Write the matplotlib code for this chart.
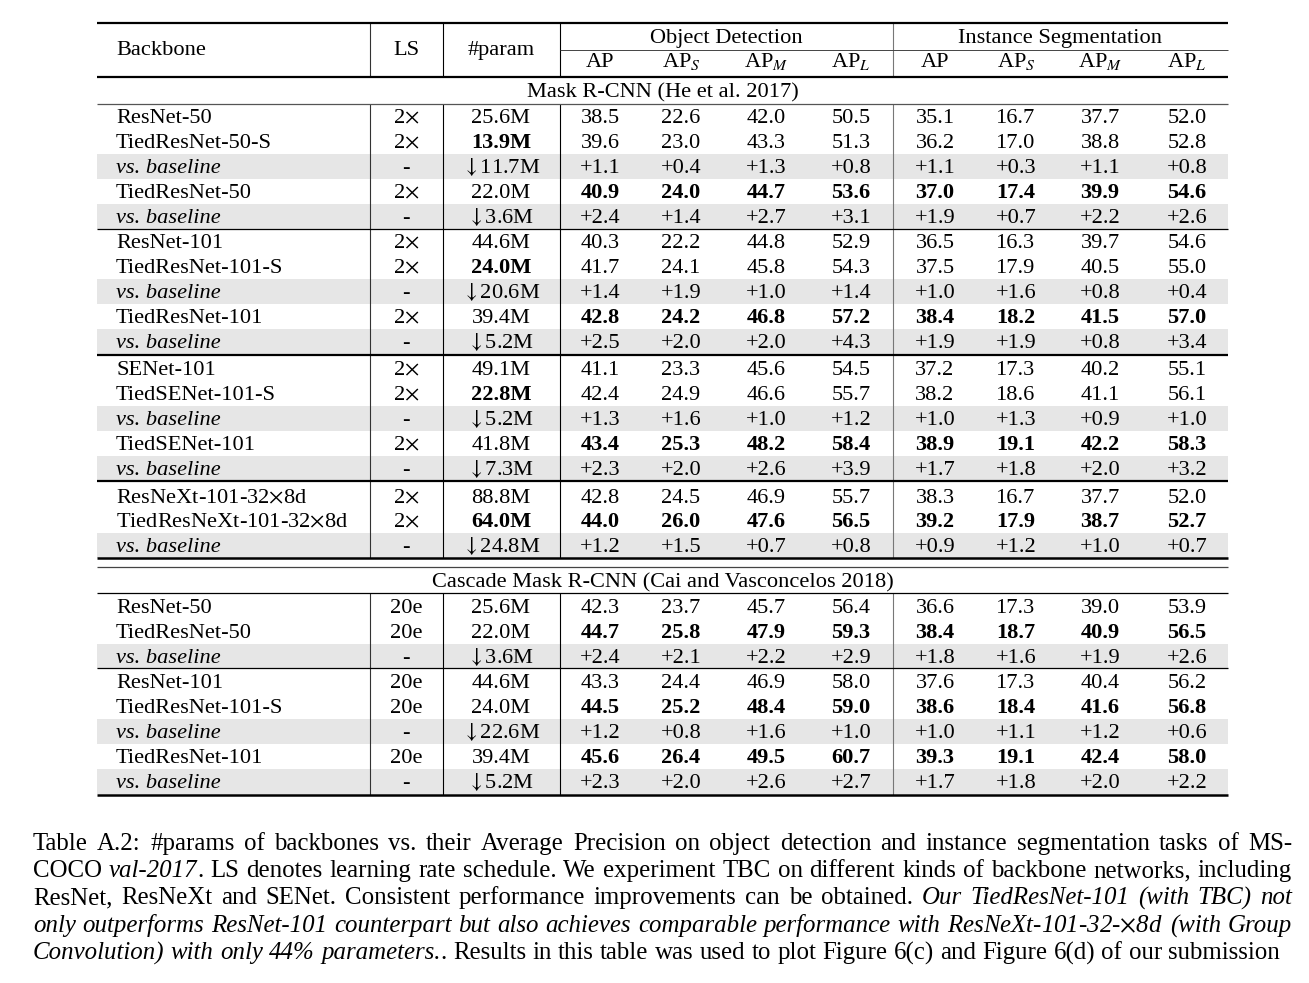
import matplotlib
matplotlib.use('Agg')
import matplotlib.pyplot as plt
from matplotlib.patches import Rectangle

plt.rcParams['font.family'] = ['Liberation Serif', 'DejaVu Serif']
plt.rcParams['mathtext.fontset'] = 'stix'

# ---------------- data ----------------
det_labels = ["AP", r"AP$_{S}$", r"AP$_{M}$", r"AP$_{L}$"]
seg_labels = ["AP", r"AP$_{S}$", r"AP$_{M}$", r"AP$_{L}$"]

mask_title = "Mask R-CNN (He et al. 2017)"
mask_backbone = ["ResNet-50", "TiedResNet-50-S", "vs. baseline", "TiedResNet-50", "vs. baseline",
                 "ResNet-101", "TiedResNet-101-S", "vs. baseline", "TiedResNet-101", "vs. baseline",
                 "SENet-101", "TiedSENet-101-S", "vs. baseline", "TiedSENet-101", "vs. baseline",
                 "ResNeXt-101-32×8d", "TiedResNeXt-101-32×8d", "vs. baseline"]
mask_ls = ["2×", "2×", "-", "2×", "-",
           "2×", "2×", "-", "2×", "-",
           "2×", "2×", "-", "2×", "-",
           "2×", "2×", "-"]
mask_params = ["25.6M", "13.9M", "↓11.7M", "22.0M", "↓3.6M",
               "44.6M", "24.0M", "↓20.6M", "39.4M", "↓5.2M",
               "49.1M", "22.8M", "↓5.2M", "41.8M", "↓7.3M",
               "88.8M", "64.0M", "↓24.8M"]
mask_det = [[38.5, 22.6, 42.0, 50.5], [39.6, 23.0, 43.3, 51.3], [1.1, 0.4, 1.3, 0.8],
            [40.9, 24.0, 44.7, 53.6], [2.4, 1.4, 2.7, 3.1],
            [40.3, 22.2, 44.8, 52.9], [41.7, 24.1, 45.8, 54.3], [1.4, 1.9, 1.0, 1.4],
            [42.8, 24.2, 46.8, 57.2], [2.5, 2.0, 2.0, 4.3],
            [41.1, 23.3, 45.6, 54.5], [42.4, 24.9, 46.6, 55.7], [1.3, 1.6, 1.0, 1.2],
            [43.4, 25.3, 48.2, 58.4], [2.3, 2.0, 2.6, 3.9],
            [42.8, 24.5, 46.9, 55.7], [44.0, 26.0, 47.6, 56.5], [1.2, 1.5, 0.7, 0.8]]
mask_seg = [[35.1, 16.7, 37.7, 52.0], [36.2, 17.0, 38.8, 52.8], [1.1, 0.3, 1.1, 0.8],
            [37.0, 17.4, 39.9, 54.6], [1.9, 0.7, 2.2, 2.6],
            [36.5, 16.3, 39.7, 54.6], [37.5, 17.9, 40.5, 55.0], [1.0, 1.6, 0.8, 0.4],
            [38.4, 18.2, 41.5, 57.0], [1.9, 1.9, 0.8, 3.4],
            [37.2, 17.3, 40.2, 55.1], [38.2, 18.6, 41.1, 56.1], [1.0, 1.3, 0.9, 1.0],
            [38.9, 19.1, 42.2, 58.3], [1.7, 1.8, 2.0, 3.2],
            [38.3, 16.7, 37.7, 52.0], [39.2, 17.9, 38.7, 52.7], [0.9, 1.2, 1.0, 0.7]]
mask_bold_params = [1, 6, 11, 16]
mask_bold_metrics = [3, 8, 13, 16]

casc_title = "Cascade Mask R-CNN (Cai and Vasconcelos 2018)"
casc_backbone = ["ResNet-50", "TiedResNet-50", "vs. baseline",
                 "ResNet-101", "TiedResNet-101-S", "vs. baseline", "TiedResNet-101", "vs. baseline"]
casc_ls = ["20e", "20e", "-", "20e", "20e", "-", "20e", "-"]
casc_params = ["25.6M", "22.0M", "↓3.6M", "44.6M", "24.0M", "↓22.6M", "39.4M", "↓5.2M"]
casc_det = [[42.3, 23.7, 45.7, 56.4], [44.7, 25.8, 47.9, 59.3], [2.4, 2.1, 2.2, 2.9],
            [43.3, 24.4, 46.9, 58.0], [44.5, 25.2, 48.4, 59.0], [1.2, 0.8, 1.6, 1.0],
            [45.6, 26.4, 49.5, 60.7], [2.3, 2.0, 2.6, 2.7]]
casc_seg = [[36.6, 17.3, 39.0, 53.9], [38.4, 18.7, 40.9, 56.5], [1.8, 1.6, 1.9, 2.6],
            [37.6, 17.3, 40.4, 56.2], [38.6, 18.4, 41.6, 56.8], [1.0, 1.1, 1.2, 0.6],
            [39.3, 19.1, 42.4, 58.0], [1.7, 1.8, 2.0, 2.2]]
casc_bold_params = []
casc_bold_metrics = [1, 4, 6]

caption_lines = [
    "Table A.2: #params of backbones vs. their Average Precision on object detection and instance segmentation tasks of MS-",
    "COCO *val-2017*. LS denotes learning rate schedule. We experiment TBC on different kinds of backbone networks, including",
    "ResNet, ResNeXt and SENet. Consistent performance improvements can be obtained. *Our TiedResNet-101 (with TBC) not*",
    "*only outperforms ResNet-101 counterpart but also achieves comparable performance with ResNeXt-101-32-×8d (with Group*",
    "*Convolution) with only 44% parameters.*. Results in this table was used to plot Figure 6(c) and Figure 6(d) of our submission",
]

# ---------------- layout ----------------
W, H = 1309, 983
fig = plt.figure(figsize=(W / 100, H / 100), dpi=100)
ax = fig.add_axes([0, 0, 1, 1])
ax.set_xlim(0, W)
ax.set_ylim(H, 0)
ax.axis('off')
renderer = fig.canvas.get_renderer()


def texify(s):
    return s.replace('×', r'$\times$').replace('↓', r'$\downarrow$')


def twidth(s, **kw):
    t = ax.text(0, 0, texify(s), **kw)
    w = t.get_window_extent(renderer).width
    t.remove()
    return w


fs_t = 10 * 233 / twidth("TiedResNeXt-101-32×8d", fontsize=10)
em_t = fs_t * 100 / 72
off_t = 0.33 * em_t

XL, XR = 97, 1228
X_BB, X_LS, X_PAR = 116, 406, 501
X_DET = [600, 681, 766, 851]
X_SEG = [935, 1016, 1100, 1187]
V_LINES = [(370, '#333333'), (443, 'black'), (560, 'black'), (893, '#777777')]

mask_y = [116, 141, 166, 191, 216, 241, 266, 291, 316, 341, 368, 393, 418, 443, 468, 496, 520, 545]
casc_y = [606, 631, 656, 681, 706, 731, 756, 781]


def hline(y, lw, color='black', x0=XL, x1=XR):
    ax.plot([x0, x1], [y, y], color=color, lw=lw, solid_capstyle='butt', zorder=3)


def vline(x, y0, y1, color):
    ax.plot([x, x], [y0, y1], color=color, lw=0.8, solid_capstyle='butt', zorder=2)


def put(x, yc, s, ha='center', **kw):
    ax.text(x, yc + off_t, texify(s), ha=ha, va='baseline', fontsize=fs_t, zorder=4, **kw)


# header
hline(23, 1.6)
put(X_BB, 48, "Backbone", ha='left')
put(X_LS, 48, "LS")
put(X_PAR, 48, "#param")
put((560 + 893) / 2, 36, "Object Detection")
put((893 + XR) / 2, 36, "Instance Segmentation")
hline(49.5, 0.7, color='#444444', x0=560, x1=XR)
for x, s in zip(X_DET, det_labels):
    put(x, 60, s)
for x, s in zip(X_SEG, seg_labels):
    put(x, 60, s)
for x, c in V_LINES:
    vline(x, 23, 77, c)
hline(77, 1.6)


def draw_section(ys, backbone, ls, params, det, seg, bold_p, bold_m):
    for i, yc in enumerate(ys):
        vs = backbone[i] == "vs. baseline"
        if vs:
            ax.add_patch(Rectangle((XL, yc - 12.5), XR - XL, 25, color='#e6e6e6', lw=0, zorder=0))
        put(X_BB, yc, backbone[i], ha='left', style='italic' if vs else 'normal')
        put(X_LS, yc, ls[i])
        put(X_PAR, yc, params[i], fontweight='bold' if i in bold_p else 'normal')
        fw = 'bold' if i in bold_m else 'normal'
        fmt = "+{:.1f}" if vs else "{:.1f}"
        for x, v in zip(X_DET, det[i]):
            put(x, yc, fmt.format(v), fontweight=fw)
        for x, v in zip(X_SEG, seg[i]):
            put(x, yc, fmt.format(v), fontweight=fw)


# Mask R-CNN section
put((XL + XR) / 2, 90, mask_title)
hline(104, 0.9, color='#555555')
draw_section(mask_y, mask_backbone, mask_ls, mask_params, mask_det, mask_seg,
             mask_bold_params, mask_bold_metrics)
for x, c in V_LINES:
    vline(x, 104, 558, c)
hline(229, 0.9)
hline(354.5, 1.6)
hline(481, 1.6)
hline(558, 1.8)
hline(566.5, 0.9, color='#444444')

# Cascade section
put((XL + XR) / 2, 580, casc_title)
hline(593, 0.9)
draw_section(casc_y, casc_backbone, casc_ls, casc_params, casc_det, casc_seg,
             casc_bold_params, casc_bold_metrics)
for x, c in V_LINES:
    vline(x, 593, 795, c)
hline(668, 0.9)
hline(795, 1.8)


# ---------------- caption (justified) ----------------
def parse(line):
    words, cur, it = [], [], False
    buf = ""
    for ch in line:
        if ch == '*':
            if buf:
                cur.append((buf, it))
                buf = ""
            it = not it
        elif ch == ' ':
            if buf:
                cur.append((buf, it))
                buf = ""
            if cur:
                words.append(cur)
            cur = []
        else:
            buf += ch
    if buf:
        cur.append((buf, it))
    if cur:
        words.append(cur)
    return words


def word_width(word, fs):
    return sum(twidth(t, fontsize=fs, style='italic' if it else 'normal') for t, it in word)


parsed = [parse(l) for l in caption_lines]
fs0 = 10
sp0 = twidth("a a", fontsize=fs0) - twidth("aa", fontsize=fs0)
last = parsed[-1]
nat = sum(word_width(w, fs0) for w in last) + sp0 * (len(last) - 1)
fs_c = fs0 * (1277 - 33) / nat
sp_c = twidth("a a", fontsize=fs_c) - twidth("aa", fontsize=fs_c)
em_c = fs_c * 100 / 72
CX0, CX1 = 33, 1292
cap_y = [842, 869, 896, 924, 951]
for li, (words, yc) in enumerate(zip(parsed, cap_y)):
    widths = [word_width(w, fs_c) for w in words]
    if li < len(parsed) - 1:
        gap = (CX1 - CX0 - sum(widths)) / (len(words) - 1)
    else:
        gap = sp_c
    x = CX0
    yb = yc + 0.33 * em_c
    for w, ww in zip(words, widths):
        xx = x
        for t, it in w:
            st = 'italic' if it else 'normal'
            ax.text(xx, yb, texify(t), fontsize=fs_c, style=st, ha='left', va='baseline')
            xx += twidth(t, fontsize=fs_c, style=st)
        x += ww + gap

fig.savefig('out.png', dpi=100)
